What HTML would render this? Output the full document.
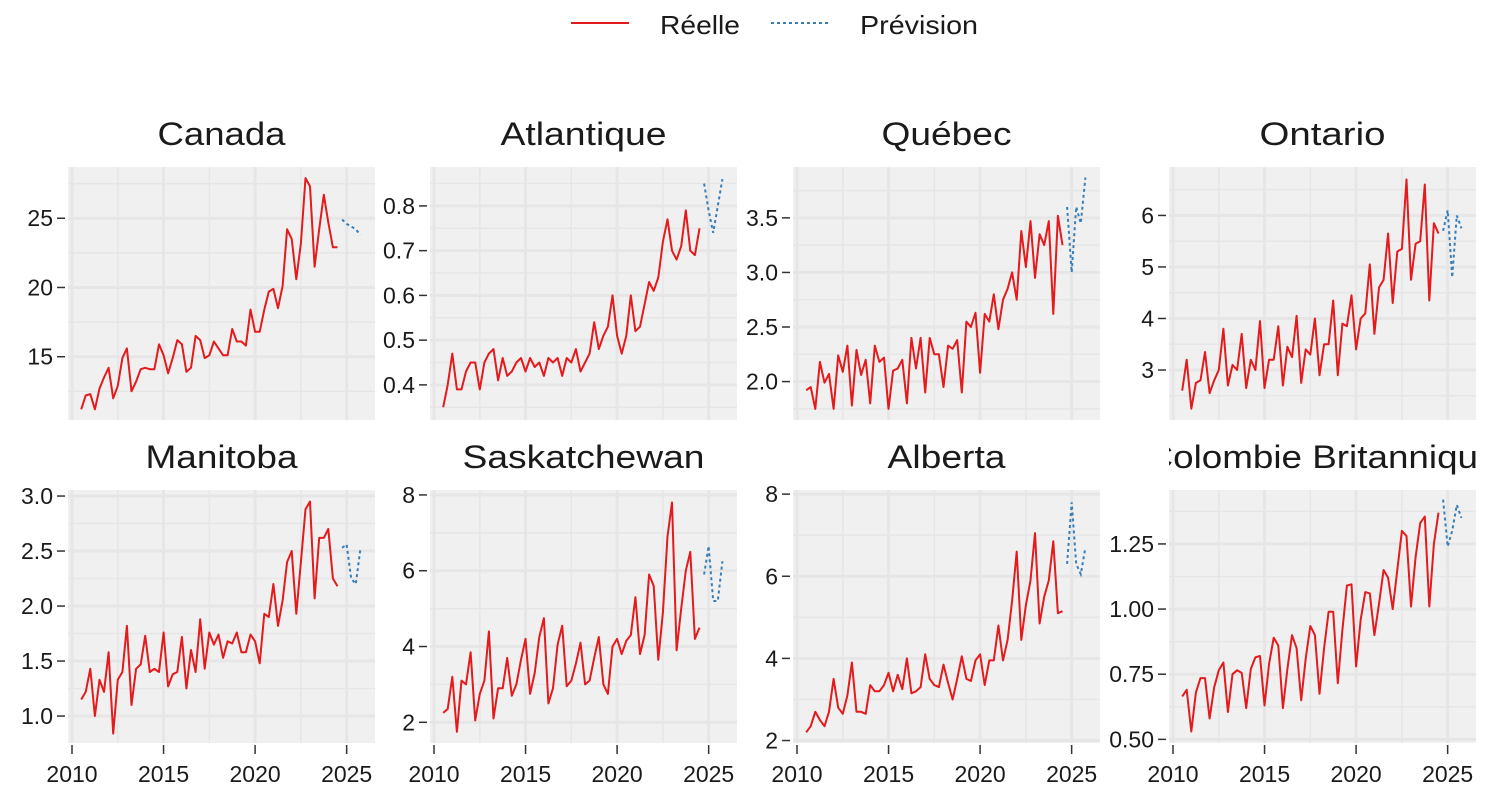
<!DOCTYPE html>
<html><head><meta charset="utf-8"><style>
html,body{margin:0;padding:0;background:#fff;width:1488px;height:800px;overflow:hidden;}
svg{display:block;font-family:"Liberation Sans",Arial,sans-serif;}
</style></head><body>
<svg id="s" width="1488" height="800" viewBox="0 0 1488 800" xmlns="http://www.w3.org/2000/svg">
<line x1="571" y1="23" x2="629" y2="23" stroke="#e41a1c" stroke-width="2"/>
<text x="660" y="34" font-size="26" fill="#1a1a1a" textLength="80" lengthAdjust="spacingAndGlyphs">Réelle</text>
<line x1="771" y1="23" x2="830" y2="23" stroke="#377eb8" stroke-width="2" stroke-dasharray="3,3"/>
<text x="860" y="34" font-size="26" fill="#1a1a1a" textLength="118" lengthAdjust="spacingAndGlyphs">Prévision</text>
</svg>
<script>
var NS="http://www.w3.org/2000/svg",S=document.getElementById("s");
function el(t,a,p){var e=document.createElementNS(NS,t);for(var k in a)e.setAttribute(k,a[k]);(p||S).appendChild(e);return e;}
var P=[
{t:"Canada",x:68,y:167,lo:10.43,hi:28.7,ticks:[15,20,25],fmt:0,tw:128,
a:[11.2,12.2,12.3,11.2,12.7,13.5,14.2,12.0,12.9,14.9,15.6,12.5,13.2,14.1,14.2,14.1,14.1,15.9,15.1,13.8,14.9,16.2,15.9,13.9,14.2,16.5,16.2,14.9,15.1,16.1,15.6,15.1,15.1,17.0,16.1,16.1,15.8,18.4,16.8,16.8,18.4,19.7,19.9,18.5,20.1,24.2,23.5,20.6,23.2,27.9,27.3,21.5,24.2,26.7,24.7,22.9,22.9],
f:[24.9,24.6,24.4,24.2,23.8]},
{t:"Atlantique",x:430,y:167,lo:0.3215,hi:0.887,ticks:[0.4,0.5,0.6,0.7,0.8],fmt:1,tw:166,
a:[0.35,0.40,0.47,0.39,0.39,0.43,0.45,0.45,0.39,0.45,0.47,0.48,0.41,0.46,0.42,0.43,0.45,0.46,0.43,0.46,0.44,0.45,0.42,0.46,0.45,0.46,0.42,0.46,0.45,0.48,0.43,0.45,0.47,0.54,0.48,0.51,0.53,0.60,0.51,0.47,0.51,0.60,0.52,0.53,0.58,0.63,0.61,0.64,0.72,0.77,0.70,0.68,0.71,0.79,0.70,0.69,0.75],
f:[0.85,0.79,0.74,0.80,0.86]},
{t:"Québec",x:793,y:167,lo:1.648,hi:3.966,ticks:[2.0,2.5,3.0,3.5],fmt:1,tw:130,
a:[1.92,1.95,1.75,2.18,1.99,2.07,1.75,2.24,2.09,2.33,1.78,2.29,2.06,2.2,1.8,2.33,2.18,2.22,1.75,2.1,2.12,2.2,1.8,2.4,2.12,2.4,1.9,2.4,2.25,2.25,1.95,2.33,2.3,2.38,1.9,2.55,2.5,2.63,2.08,2.62,2.55,2.8,2.48,2.75,2.85,3.0,2.75,3.38,3.05,3.47,2.95,3.35,3.25,3.47,2.62,3.52,3.25],
f:[3.6,3.0,3.6,3.45,3.87]},
{t:"Ontario",x:1169,y:167,lo:2.03,hi:6.94,ticks:[3,4,5,6],fmt:0,tw:126,
a:[2.6,3.2,2.25,2.75,2.8,3.35,2.55,2.8,3.0,3.8,2.7,3.1,3.0,3.7,2.65,3.2,3.0,3.95,2.65,3.2,3.2,3.85,2.7,3.45,3.25,4.05,2.75,3.4,3.3,4.0,2.9,3.5,3.5,4.35,2.9,3.9,3.85,4.45,3.4,4.0,4.1,5.05,3.7,4.6,4.75,5.65,4.3,5.3,5.35,6.7,4.75,5.45,5.5,6.6,4.35,5.85,5.65],
f:[5.7,6.1,4.8,6.0,5.75]},
{t:"Manitoba",x:68,y:490,lo:0.755,hi:3.055,ticks:[1.0,1.5,2.0,2.5,3.0],fmt:1,tw:152,
a:[1.15,1.22,1.43,1.0,1.33,1.22,1.58,0.84,1.33,1.4,1.82,1.1,1.43,1.47,1.73,1.4,1.43,1.4,1.76,1.27,1.38,1.4,1.72,1.25,1.6,1.4,1.88,1.43,1.76,1.65,1.74,1.53,1.68,1.66,1.76,1.58,1.58,1.74,1.68,1.48,1.93,1.9,2.2,1.82,2.05,2.4,2.5,1.93,2.4,2.88,2.95,2.07,2.62,2.62,2.7,2.25,2.18],
f:[2.53,2.56,2.25,2.2,2.52]},
{t:"Saskatchewan",x:430,y:490,lo:1.454,hi:8.13,ticks:[2,4,6,8],fmt:0,tw:242,
a:[2.25,2.35,3.2,1.75,3.1,3.0,3.85,2.05,2.75,3.1,4.4,2.1,2.9,2.9,3.7,2.7,3.0,3.65,4.2,2.75,3.3,4.25,4.75,2.5,2.9,4.05,4.55,2.95,3.1,3.55,4.1,3.0,3.1,3.7,4.25,3.0,2.75,4.0,4.2,3.8,4.15,4.3,5.3,3.8,4.3,5.9,5.6,3.65,4.9,6.9,7.8,3.9,5.0,6.0,6.5,4.2,4.5],
f:[5.9,6.65,5.2,5.2,6.25]},
{t:"Alberta",x:793,y:490,lo:1.94,hi:8.1,ticks:[2,4,6,8],fmt:0,tw:118,
a:[2.2,2.35,2.7,2.5,2.35,2.7,3.5,2.8,2.65,3.1,3.9,2.7,2.7,2.65,3.35,3.2,3.2,3.35,3.65,3.2,3.6,3.25,4.0,3.15,3.2,3.3,4.1,3.5,3.35,3.3,3.85,3.4,3.0,3.5,4.05,3.5,3.45,3.95,4.1,3.35,3.95,3.95,4.8,3.95,4.45,5.4,6.6,4.45,5.3,5.9,7.05,4.85,5.5,5.9,6.85,5.1,5.15],
f:[6.3,7.8,6.3,6.05,6.7]},
{t:"Colombie Britannique",x:1169,y:490,lo:0.486,hi:1.457,ticks:[0.5,0.75,1.0,1.25],fmt:2,tw:352,
a:[0.665,0.69,0.53,0.68,0.735,0.735,0.58,0.70,0.765,0.795,0.605,0.75,0.765,0.755,0.62,0.77,0.815,0.82,0.63,0.79,0.89,0.86,0.62,0.77,0.90,0.85,0.65,0.81,0.935,0.90,0.675,0.85,0.99,0.99,0.715,0.92,1.09,1.095,0.78,0.96,1.065,1.06,0.90,1.02,1.15,1.12,1.00,1.15,1.30,1.28,1.01,1.20,1.33,1.355,1.01,1.25,1.37],
f:[1.42,1.24,1.30,1.40,1.35]}
];
var W=307,H=253,PX=18.31;
P.forEach(function(p,i){
  var X=function(yr){return p.x+4+(yr-2010)*PX;};
  var Y=function(v){return p.y+H-(v-p.lo)/(p.hi-p.lo)*H;};
  el("rect",{x:p.x,y:p.y,width:W,height:H,fill:"#f0f0f0"});
  var cid="c"+i;var cp=el("clipPath",{id:cid});el("rect",{x:p.x,y:p.y,width:W,height:H},cp);
  var g=el("g",{"clip-path":"url(#"+cid+")"});
  for(var yr=2007.5;yr<=2027.5;yr+=2.5){var xx=X(yr);var mj=(yr%5===0);
    el("line",{x1:xx,x2:xx,y1:p.y,y2:p.y+H,stroke:"#e6e6e6","stroke-width":mj?3:1.5},g);}
  var t=p.ticks,st=t[1]-t[0];
  for(var v=t[0]-2*st;v<=t[t.length-1]+2*st+1e-9;v+=st/2){
    var mj=Math.abs(((v-t[0])/st)-Math.round((v-t[0])/st))<1e-6;
    var yy=Y(v);el("line",{x1:p.x,x2:p.x+W,y1:yy,y2:yy,stroke:"#e6e6e6","stroke-width":mj?3:1.5},g);}
  var pts=p.a.map(function(v,k){return X(2010.5+k*0.25).toFixed(1)+","+Y(v).toFixed(1);}).join(" ");
  el("polyline",{points:pts,fill:"none",stroke:"#e41a1c","stroke-width":2,"stroke-linejoin":"round"},g);
  var fp=p.f.map(function(v,k){return X(2024.75+k*0.25).toFixed(1)+","+Y(v).toFixed(1);}).join(" ");
  el("polyline",{points:fp,fill:"none",stroke:"#377eb8","stroke-width":2,"stroke-dasharray":"3,3"},g);
  t.forEach(function(v){var yy=Y(v);
    el("line",{x1:p.x-11,x2:p.x-3,y1:yy,y2:yy,stroke:"#333","stroke-width":1.5});
    var tx=el("text",{x:p.x-15,y:yy+8,"font-size":23,"text-anchor":"end",fill:"#1a1a1a"});tx.textContent=v.toFixed(p.fmt);});
  if(p.y>400){[2010,2015,2020,2025].forEach(function(yr){var xx=X(yr);
    el("line",{x1:xx,x2:xx,y1:p.y+H+2,y2:p.y+H+11,stroke:"#333","stroke-width":1.5});
    var tx=el("text",{x:xx,y:p.y+H+39,"font-size":23,"text-anchor":"middle",fill:"#1a1a1a"});tx.textContent=yr;});}
  var tcid="tc"+i;var tcp=el("clipPath",{id:tcid});el("rect",{x:p.x,y:p.y-60,width:W,height:60},tcp);
  var tg=el("g",{"clip-path":"url(#"+tcid+")"});
  var tt=el("text",{x:p.x+W/2-p.tw/2,y:p.y-22,"font-size":32,fill:"#1a1a1a",textLength:p.tw,lengthAdjust:"spacingAndGlyphs"},tg);tt.textContent=p.t;
});
</script>
</body></html>
